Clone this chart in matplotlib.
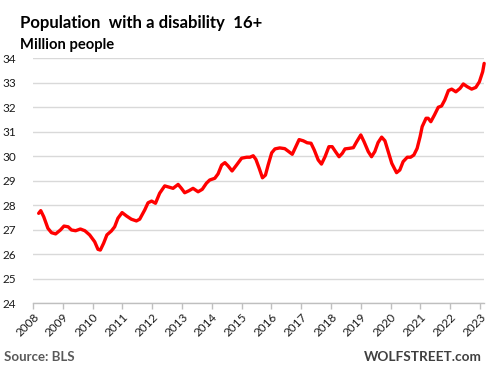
import matplotlib
matplotlib.use("Agg")
import matplotlib.pyplot as plt

# Data (decimal year, million people)
dates = [2008.19, 2008.26, 2008.36, 2008.50, 2008.62, 2008.76, 2008.92, 2009.04, 2009.18, 2009.29,
         2009.43, 2009.59, 2009.74, 2009.90, 2010.07, 2010.18, 2010.26, 2010.37, 2010.48, 2010.63,
         2010.74, 2010.85, 2010.99, 2011.14, 2011.30, 2011.47, 2011.58, 2011.75, 2011.86, 2011.98,
         2012.11, 2012.25, 2012.42, 2012.59, 2012.70, 2012.87, 2012.98, 2013.09, 2013.23, 2013.37,
         2013.54, 2013.68, 2013.82, 2013.93, 2014.10, 2014.21, 2014.33, 2014.44, 2014.55, 2014.68,
         2014.83, 2015.00, 2015.17, 2015.28, 2015.39, 2015.48, 2015.59, 2015.70, 2015.80, 2015.89,
         2016.01, 2016.12, 2016.28, 2016.45, 2016.56, 2016.70, 2016.80, 2016.93, 2017.07, 2017.20,
         2017.33, 2017.44, 2017.57, 2017.68, 2017.80, 2017.93, 2018.04, 2018.15, 2018.27, 2018.38,
         2018.47, 2018.60, 2018.75, 2018.86, 2019.00, 2019.11, 2019.25, 2019.36, 2019.47, 2019.58,
         2019.70, 2019.81, 2019.92, 2020.04, 2020.20, 2020.31, 2020.42, 2020.56, 2020.67, 2020.78,
         2020.89, 2020.99, 2021.06, 2021.19, 2021.26, 2021.35, 2021.47, 2021.60, 2021.71, 2021.82,
         2021.94, 2022.05, 2022.19, 2022.33, 2022.44, 2022.57, 2022.72, 2022.86, 2022.98, 2023.09,
         2023.14]
values = [27.66, 27.77, 27.52, 27.05, 26.87, 26.82, 26.98, 27.14, 27.11, 26.98,
          26.95, 27.02, 26.95, 26.78, 26.50, 26.19, 26.16, 26.44, 26.78, 26.94,
          27.11, 27.46, 27.69, 27.55, 27.42, 27.35, 27.42, 27.80, 28.09, 28.16,
          28.07, 28.48, 28.78, 28.72, 28.68, 28.84, 28.68, 28.50, 28.58, 28.68,
          28.54, 28.64, 28.89, 29.02, 29.09, 29.27, 29.63, 29.73, 29.59, 29.39,
          29.63, 29.91, 29.95, 29.95, 30.01, 29.86, 29.50, 29.11, 29.22, 29.63,
          30.13, 30.29, 30.33, 30.30, 30.20, 30.07, 30.33, 30.67, 30.62, 30.54,
          30.52, 30.24, 29.84, 29.67, 29.97, 30.38, 30.38, 30.18, 29.97, 30.11,
          30.29, 30.31, 30.34, 30.58, 30.86, 30.58, 30.18, 29.97, 30.18, 30.55,
          30.77, 30.62, 30.18, 29.70, 29.32, 29.43, 29.77, 29.95, 29.95, 30.04,
          30.31, 30.79, 31.20, 31.54, 31.54, 31.40, 31.67, 31.99, 32.04, 32.29,
          32.67, 32.73, 32.62, 32.76, 32.94, 32.83, 32.73, 32.80, 33.03, 33.44,
          33.78]
year_ticks = list(range(2008, 2024))
y_ticks = list(range(24, 35))

title = "Population  with a disability  16+"
subtitle = "Million people"
source = "Source: BLS"
brand = "WOLFSTREET.com"

plt.rcParams['font.family'] = ['Lato', 'DejaVu Sans']

W, H = 493, 372
fig = plt.figure(figsize=(W / 100, H / 100), dpi=100)
ax = fig.add_axes([33 / W, (H - 303) / H, (484 - 33) / W, (303 - 58) / H])

ax.plot(dates, values, color='#ff0000', lw=2.4, solid_joinstyle='round',
        solid_capstyle='round', zorder=3, clip_on=False)

ax.set_xlim(2008.0, 2008 + (484 - 33.3) / 29.78)
ax.set_ylim(24, 34)
ax.set_yticks(y_ticks)
ax.set_yticklabels([str(v) for v in y_ticks])
ax.set_xticks(year_ticks)
ax.set_xticklabels([str(y) for y in year_ticks], rotation=45, ha='right',
                   va='top', rotation_mode='anchor')

ax.grid(axis='y', color='#d9d9d9', lw=1.0, zorder=0)
ax.grid(axis='x', visible=False)
for s in ['top', 'right', 'left']:
    ax.spines[s].set_visible(False)
ax.spines['bottom'].set_color('#bfbfbf')
ax.spines['bottom'].set_linewidth(1.0)
ax.tick_params(axis='y', length=0, pad=12, labelsize=8.5, labelcolor='#1a1a1a')
ax.tick_params(axis='x', length=4, width=1, color='#bfbfbf', pad=2,
               labelsize=8.5, labelcolor='#1a1a1a')

fig.text(20 / W, 1 - 27.7 / H, title, fontsize=12.1, fontweight='bold',
         color='black', ha='left', va='baseline')
fig.text(20 / W, 1 - 49 / H, subtitle, fontsize=10.6, fontweight='bold',
         color='black', ha='left', va='baseline')
fig.text(4 / W, 1 - 361 / H, source, fontsize=9.5, fontweight='bold',
         color='#595959', ha='left', va='baseline')
fig.text(482 / W, 1 - 361 / H, brand, fontsize=9.8, fontweight='bold',
         color='#404040', ha='right', va='baseline')

fig.savefig('out.png', dpi=100)
